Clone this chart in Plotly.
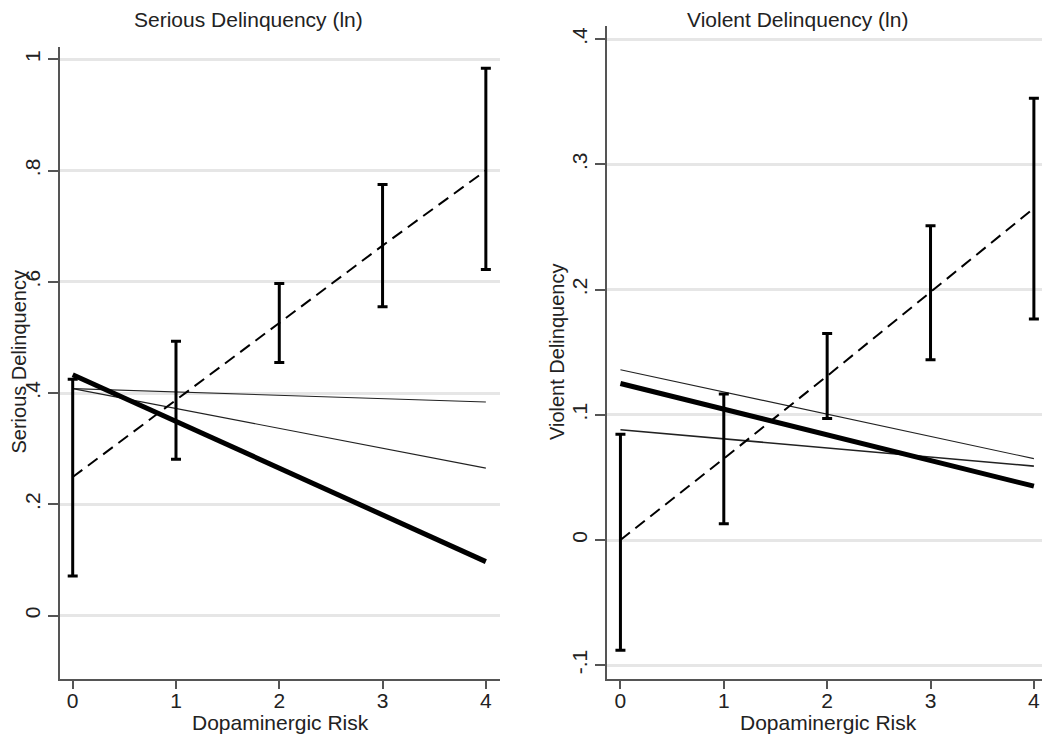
import plotly.graph_objects as go

# ---- data ----
risk = [0, 1, 2, 3, 4]
line_x = [0, 4]

serious_pred = [0.249, 0.387, 0.526, 0.665, 0.800]
serious_lo = [0.071, 0.281, 0.455, 0.555, 0.622]
serious_hi = [0.425, 0.493, 0.597, 0.775, 0.984]
serious_thick = [0.433, 0.097]
serious_thin_a = [0.408, 0.384]
serious_thin_b = [0.408, 0.265]

violent_pred = [0.0, 0.065, 0.131, 0.198, 0.265]
violent_lo = [-0.088, 0.013, 0.097, 0.144, 0.1765]
violent_hi = [0.0844, 0.1166, 0.165, 0.251, 0.3528]
violent_thick = [0.125, 0.043]
violent_thin_a = [0.136, 0.065]
violent_thin_b = [0.088, 0.059]

serious_ticks = [0, 0.2, 0.4, 0.6, 0.8, 1.0]
serious_ticktext = ["0", ".2", ".4", ".6", ".8", "1"]
violent_ticks = [-0.1, 0, 0.1, 0.2, 0.3, 0.4]
violent_ticktext = ["-.1", "0", ".1", ".2", ".3", ".4"]

FONT = "Arial, Liberation Sans, sans-serif"
OFF = 8  # page body margin
W, H = 1050 - OFF, 735 - OFF


def xp(X):
    return (X - OFF) / W


def yp(Y):
    return 1 - (Y - OFF) / H


fig = go.Figure()


def add_panel(xa, ya, pred, lo, hi, thick, thin_a, thin_b, thin_b_w):
    fig.add_trace(go.Scatter(x=line_x, y=thin_a, mode="lines", xaxis=xa, yaxis=ya,
                             line=dict(color="#222", width=1.1), showlegend=False))
    fig.add_trace(go.Scatter(x=line_x, y=thin_b, mode="lines", xaxis=xa, yaxis=ya,
                             line=dict(color="#222", width=thin_b_w), showlegend=False))
    fig.add_trace(go.Scatter(x=line_x, y=thick, mode="lines", xaxis=xa, yaxis=ya,
                             line=dict(color="#000", width=5), showlegend=False))
    fig.add_trace(go.Scatter(
        x=risk, y=pred, mode="lines", xaxis=xa, yaxis=ya,
        line=dict(color="#000", width=2, dash="12px,7px"),
        error_y=dict(type="data", symmetric=False,
                     array=[h - p for h, p in zip(hi, pred)],
                     arrayminus=[p - l for p, l in zip(pred, lo)],
                     color="#000", thickness=3, width=5),
        showlegend=False))


add_panel("x", "y", serious_pred, serious_lo, serious_hi,
          serious_thick, serious_thin_a, serious_thin_b, 1.1)
add_panel("x2", "y2", violent_pred, violent_lo, violent_hi,
          violent_thick, violent_thin_a, violent_thin_b, 1.6)

xcommon = dict(tickvals=risk, ticktext=[str(v) for v in risk], ticks="outside",
               ticklen=8, tickwidth=1.5, tickcolor="#555", showline=True,
               linecolor="#555", linewidth=1.5, showgrid=False, zeroline=False,
               ticklabelstandoff=-6,
               tickfont=dict(family=FONT, size=21, color="#222"))
ycommon = dict(ticks="outside", ticklen=10, tickwidth=1.5, tickcolor="#555",
               showline=True, linecolor="#555", linewidth=1.5, showgrid=True,
               gridcolor="#e6e6e6", gridwidth=2.5, zeroline=False, tickangle=-90,
               tickfont=dict(family=FONT, size=21, color="#222"))

fig.update_layout(
    width=W, height=H,
    margin=dict(l=0, r=0, t=0, b=0),
    paper_bgcolor="white", plot_bgcolor="white",
    xaxis=dict(domain=[xp(60), xp(500)], range=[-0.123, 4.137], anchor="y", **xcommon),
    yaxis=dict(domain=[yp(679), yp(47)], range=[-0.114, 1.022], anchor="x",
               tickvals=serious_ticks, ticktext=serious_ticktext, **ycommon),
    xaxis2=dict(domain=[xp(607), 1.0], range=[-0.13, 4.156], anchor="y2", **xcommon),
    yaxis2=dict(domain=[yp(679), yp(26)], range=[-0.111, 0.4105], anchor="x2",
                tickvals=violent_ticks, ticktext=violent_ticktext, **ycommon),
    font=dict(family=FONT, size=21, color="#222"),
)

ann = [
    dict(text="Serious Delinquency (ln)", x=xp(248), y=yp(20), size=21),
    dict(text="Violent Delinquency (ln)", x=xp(797), y=yp(19), size=21),
    dict(text="Dopaminergic Risk", x=xp(280), y=yp(722), size=21),
    dict(text="Dopaminergic Risk", x=xp(828), y=yp(722), size=21),
    dict(text="Serious Delinquency", x=xp(18.5), y=yp(362), size=20, textangle=-90),
    dict(text="Violent Delinquency", x=xp(557), y=yp(352), size=20, textangle=-90),
]
for a in ann:
    size = a.pop("size")
    fig.add_annotation(xref="paper", yref="paper", showarrow=False,
                       xanchor="center", yanchor="middle",
                       font=dict(family=FONT, size=size, color="#222"), **a)

fig.write_html("out.html")
